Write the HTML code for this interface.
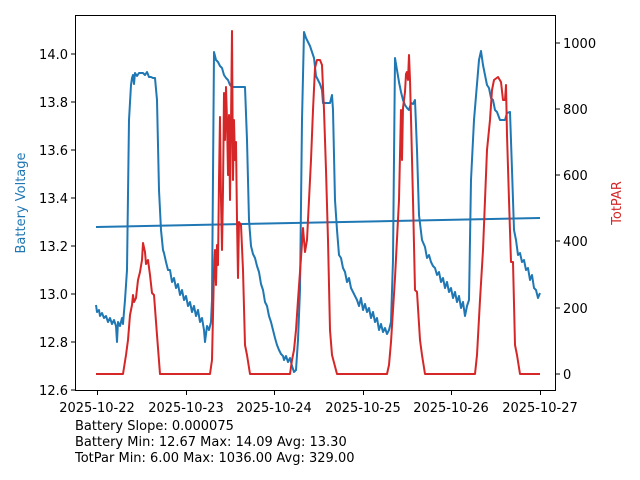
<!DOCTYPE html>
<html><head><style>body{margin:0;background:#fff}svg{display:block}text{font-family:"DejaVu Sans",sans-serif;font-size:13px}</style></head><body>
<svg width="640" height="480" xmlns="http://www.w3.org/2000/svg">
<rect width="640" height="480" fill="#fff"/>
<g fill="none" stroke-linejoin="round" stroke-width="2">
<polyline stroke="#1f77b4" points="96,305 97,312 99,310 100,316 102,313 104,318 106,316 108,322 110,318 112,324 114,320 116,326 117,342 118,322 120,326 122,318 123,324 125,300 127,270 129,120 131,85 132,78 133,75 134,84 135,73 137,76 139,73 143,73 145,75 147,72 149,77 151,77 153,78 155,78 157,100 159,190 161,230 163,250 164,253 166,262 168,270 170,270 172,282 174,278 176,288 178,284 180,295 182,290 184,300 186,296 188,306 190,302 192,312 194,306 196,316 198,310 200,322 202,318 204,330 205,342 207,326 209,330 211,322 212,300 214,52 216,60 218,62 220,66 222,68 224,75 226,78 228,80 230,85 232,87 245,87 247,140 249,220 251,246 253,254 255,258 257,266 259,272 261,284 263,290 265,302 267,306 269,316 271,322 273,330 275,338 277,345 279,350 281,354 283,356 284,360 286,356 288,362 290,358 292,366 294,372 296,370 298,340 300,290 302,120 304,32 306,38 308,42 310,46 312,52 314,58 316,76 318,80 320,84 322,90 323,103 330,103 332,95 333,110 335,200 337,230 339,255 341,258 343,268 345,272 347,282 349,278 351,288 353,292 355,296 357,300 359,306 361,298 363,310 365,304 367,312 369,308 371,318 373,312 375,322 377,318 379,330 381,324 383,332 385,328 387,334 389,330 391,322 393,260 395,58 397,70 399,82 401,92 403,100 405,105 407,108 409,110 411,103 413,104 415,100 417,150 419,215 422,240 425,247 427,258 429,255 431,262 433,266 435,268 437,275 439,272 441,282 443,278 445,288 447,282 449,292 451,288 453,298 455,292 457,302 459,296 461,308 463,302 465,316 467,306 469,300 471,180 474,120 479,60 481,51 483,65 485,75 487,85 489,88 491,98 493,100 495,110 497,112 500,120 505,120 507,113 510,112 512,170 514,230 516,240 518,255 520,253 522,262 524,260 526,270 528,268 530,280 532,275 534,288 536,290 538,298 540,293"/>
<line x1="96" y1="227" x2="540" y2="218" stroke="#1f77b4"/>
<polyline stroke="#d62728" points="96,374 123,374 126,355 128,340 130,315 132,305 133,295 134,302 136,298 138,280 140,272 142,260 143,243 145,252 146,264 148,260 150,275 152,293 154,295 157,335 160,374 210,374 212,360 214,270 215,250 216,285 217,245 218,265 219,180 220,117 221,200 222,250 223,190 224,93 225,140 226,87 227,120 228,175 229,115 230,200 231,122 232,31 233,180 234,120 235,160 236,142 237,220 238,278 239,222 241,225 243,270 245,345 247,355 250,374 290,374 292,360 294,350 296,330 298,300 301,258 303,228 305,252 307,240 309,200 311,160 313,110 315,68 317,60 320,60 322,65 324,110 326,170 328,240 330,330 332,355 337,374 387,374 389,365 391,342 395,278 399,200 401,110 402,160 403,108 405,92 406,74 407,72 408,80 409,55 410,80 411,118 413,200 415,290 417,292 420,340 422,355 425,374 475,374 477,355 480,300 483,250 487,150 490,120 492,90 494,80 498,77 501,82 503,100 505,100 506,85 507,135 509,200 511,262 513,262 515,345 517,355 520,374 540,374"/>
</g>
<rect x="75.5" y="15.5" width="480" height="375" fill="none" stroke="#000" stroke-width="1"/>
<g stroke="#000" stroke-width="1">
<line x1="71" y1="390" x2="75" y2="390"/><line x1="71" y1="342" x2="75" y2="342"/><line x1="71" y1="294" x2="75" y2="294"/><line x1="71" y1="246" x2="75" y2="246"/><line x1="71" y1="198" x2="75" y2="198"/><line x1="71" y1="150" x2="75" y2="150"/><line x1="71" y1="102" x2="75" y2="102"/><line x1="71" y1="54" x2="75" y2="54"/>
<line x1="556" y1="374" x2="560" y2="374"/><line x1="556" y1="308" x2="560" y2="308"/><line x1="556" y1="241" x2="560" y2="241"/><line x1="556" y1="175" x2="560" y2="175"/><line x1="556" y1="109" x2="560" y2="109"/><line x1="556" y1="43" x2="560" y2="43"/>
<line x1="97.5" y1="391" x2="97.5" y2="395"/><line x1="186.5" y1="391" x2="186.5" y2="395"/><line x1="274.5" y1="391" x2="274.5" y2="395"/><line x1="363.5" y1="391" x2="363.5" y2="395"/><line x1="451.5" y1="391" x2="451.5" y2="395"/><line x1="540.5" y1="391" x2="540.5" y2="395"/>
</g>
<g text-anchor="end">
<text x="68" y="395">12.6</text><text x="68" y="347">12.8</text><text x="68" y="299">13.0</text><text x="68" y="251">13.2</text><text x="68" y="203">13.4</text><text x="68" y="155">13.6</text><text x="68" y="107">13.8</text><text x="68" y="59">14.0</text>
</g>
<g>
<text x="563" y="379">0</text><text x="563" y="313">200</text><text x="563" y="246">400</text><text x="563" y="180">600</text><text x="563" y="114">800</text><text x="563" y="48">1000</text>
</g>
<g text-anchor="middle">
<text x="97" y="412">2025-10-22</text><text x="186" y="412">2025-10-23</text><text x="274" y="412">2025-10-24</text><text x="363" y="412">2025-10-25</text><text x="451" y="412">2025-10-26</text><text x="540" y="412">2025-10-27</text>
</g>
<text transform="translate(25,203) rotate(-90)" text-anchor="middle" fill="#1f77b4">Battery Voltage</text>
<text transform="translate(621,203) rotate(-90)" text-anchor="middle" fill="#d62728">TotPAR</text>
<text x="75" y="430">Battery Slope: 0.000075</text>
<text x="75" y="446">Battery Min: 12.67 Max: 14.09 Avg: 13.30</text>
<text x="75" y="462">TotPar Min: 6.00 Max: 1036.00 Avg: 329.00</text>
</svg>
</body></html>
